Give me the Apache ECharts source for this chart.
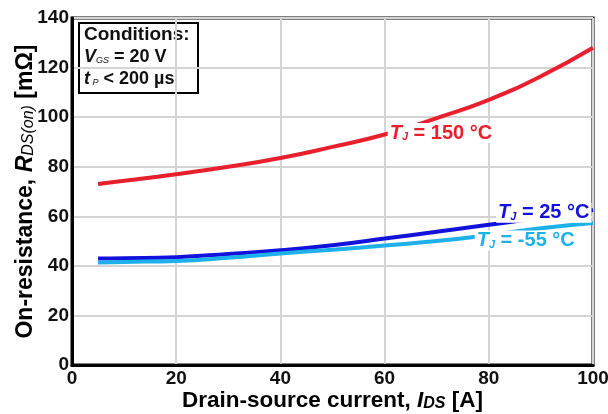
<!DOCTYPE html>
<html><head><meta charset="utf-8">
<script src="https://cdn.jsdelivr.net/npm/echarts@6/dist/echarts.min.js"></script>
<style>html,body{margin:0;padding:0;background:#fff}#c{width:608px;height:414px}</style>
</head><body><div id="c"></div>
<script>
const current = [5, 10, 20, 30, 40, 50, 60, 70, 80, 90, 100];
const r150 = [73, 74.3, 77, 80, 83.5, 88, 93, 99.6, 107, 116.5, 128];
const r25 = [43, 43.1, 43.5, 44.8, 46.3, 48.3, 51, 53.8, 56.6, 59.4, 62.5];
const rm55 = [41.4, 41.6, 42, 43.3, 45, 46.5, 48.2, 50, 52.4, 55.2, 57.3];
const xTicks = [0, 20, 40, 60, 80, 100];
const yTicks = [0, 20, 40, 60, 80, 100, 120, 140];
const labels = [
  {name: '150', text: '150 °C', at: [60.6, 93.6], color: '#e8202e'},
  {name: '25', text: '25 °C', at: [81.4, 61.4], color: '#1212dc'},
  {name: '-55', text: '-55 °C', at: [77.3, 50.2], color: '#1eb0ea'}
];
const FONT = '"Liberation Sans", Arial, sans-serif';
function pairs(ys){ return current.map((x,i)=>[x, ys[i]]); }
function tjLabel(l){
  return {
    symbol: 'rect', symbolSize: 0,
    data: [{coord: l.at}],
    label: {
      show: true, position: 'right', distance: 0,
      formatter: '{t|T}{s|J}{m| = ' + l.text + '}',
      backgroundColor: '#fff', padding: [0, 2, 0, 2],
      rich: {
        t: {fontFamily: FONT, fontSize: 20, fontWeight: 'bold', fontStyle: 'italic', color: l.color},
        s: {fontFamily: FONT, fontSize: 11, fontWeight: 'bold', fontStyle: 'italic', color: l.color, padding: [8, 0, 0, 0]},
        m: {fontFamily: FONT, fontSize: 20, fontWeight: 'bold', color: l.color}
      }
    }
  };
}
const series = [r150, r25, rm55].map((ys, i) => ({
  type: 'line', data: pairs(ys), smooth: true, showSymbol: false,
  lineStyle: {color: labels[i].color, width: 4}, z: 2,
  markPoint: Object.assign(tjLabel(labels[i]), {z: 5})
}));
const chart = echarts.init(document.getElementById('c'));
chart.setOption({
  animation: false,
  grid: {left: 72, right: 15, top: 18, bottom: 49, outerBoundsMode: 'none', containLabel: false,
    show: true, borderColor: '#000', borderWidth: 3, backgroundColor: '#fff'},
  xAxis: {
    type: 'value', min: xTicks[0], max: xTicks[xTicks.length-1], interval: 20,
    axisLine: {show: true, lineStyle: {color: '#000', width: 3}},
    axisTick: {show: false},
    splitLine: {show: true, lineStyle: {color: '#d4d4d4', width: 2}},
    axisLabel: {fontFamily: FONT, fontSize: 19, fontWeight: 'bold', color: '#111', margin: 4},
    name: 'Drain-source current, {i|I}{s|DS} [A]', nameLocation: 'middle', nameGap: 24, nameMoveOverlap: false,
    nameTextStyle: {
      fontFamily: FONT, fontSize: 22.5, fontWeight: 'bold', color: '#000',
      rich: {
        i: {fontFamily: FONT, fontSize: 22.5, fontWeight: 'bold', fontStyle: 'italic', color: '#000'},
        s: {fontFamily: FONT, fontSize: 16, fontWeight: 'bold', fontStyle: 'italic', color: '#000', padding: [6, 0, 0, 0]}
      }
    }
  },
  yAxis: {
    type: 'value', min: yTicks[0], max: yTicks[yTicks.length-1], interval: 20,
    axisLine: {show: true, lineStyle: {color: '#000', width: 3}},
    axisTick: {show: false},
    splitLine: {show: true, lineStyle: {color: '#d4d4d4', width: 2}},
    axisLabel: {fontFamily: FONT, fontSize: 19, fontWeight: 'bold', color: '#111', margin: 3},
    name: 'On-resistance, {i|R}{s|DS(on)} [mΩ]', nameLocation: 'middle', nameGap: 35, nameRotate: 90, nameMoveOverlap: false,
    nameTextStyle: {
      fontFamily: FONT, fontSize: 23, fontWeight: 'bold', color: '#000',
      rich: {
        i: {fontFamily: FONT, fontSize: 23, fontWeight: 'bold', fontStyle: 'italic', color: '#000'},
        s: {fontFamily: FONT, fontSize: 16, fontWeight: 'normal', fontStyle: 'italic', color: '#000', padding: [6, 0, 0, 0]}
      }
    }
  },
  graphic: [{
    type: 'group', left: 78, top: 22, z: 10,
    children: [
      {type: 'rect', shape: {x: 0, y: 0, width: 119, height: 70}, style: {fill: '#fff', stroke: '#000', lineWidth: 2}},
      {type: 'text', x: 5, y: 1, style: {
        text: 'Conditions:\n{i|V}{s|GS}{m| = 20 V}\n{i|t}{s| P}{m| < 200 µs}',
        font: 'bold 19px ' + FONT, fill: '#111', lineHeight: 22,
        rich: {
          i: {font: 'italic bold 18px ' + FONT, fill: '#111', lineHeight: 22},
          s: {font: 'italic 9px ' + FONT, fill: '#111', padding: [6, 0, 0, 0], lineHeight: 22},
          m: {font: 'bold 18px ' + FONT, fill: '#111', lineHeight: 22}
        }
      }}
    ]
  }],
  series: series
});
</script></body></html>
